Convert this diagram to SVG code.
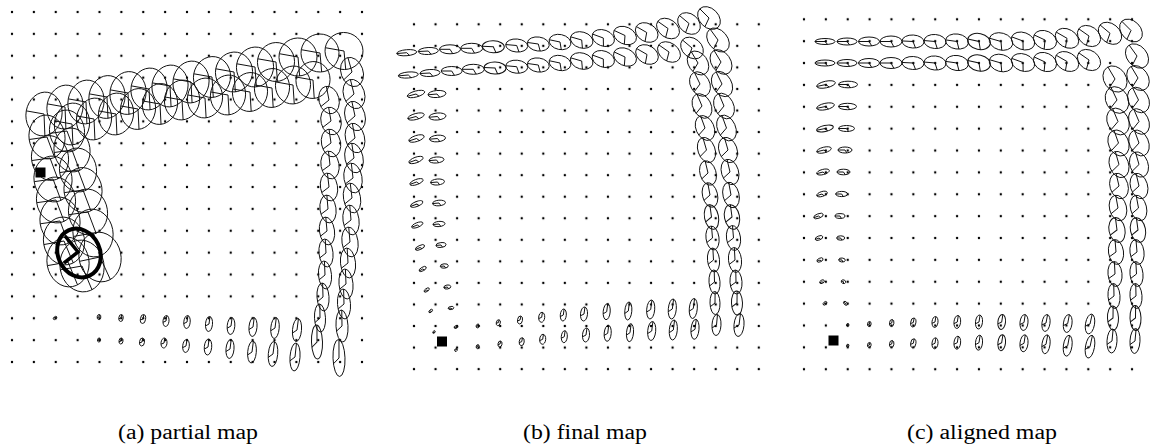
<svg xmlns="http://www.w3.org/2000/svg" width="1150" height="447" viewBox="0 0 1150 447">
<defs>
  <!-- landmark grids -->
  <pattern id="dotsA" patternUnits="userSpaceOnUse" x="1.0625" y="1.0625" width="21.875" height="21.875">
    <circle cx="10.9375" cy="10.9375" r="1.2" fill="#000"/>
  </pattern>
  <pattern id="dotsB" patternUnits="userSpaceOnUse" x="403.225" y="13.525" width="21.55" height="21.55">
    <circle cx="10.775" cy="10.775" r="1.2" fill="#000"/>
  </pattern>
  <pattern id="dotsC" patternUnits="userSpaceOnUse" x="793.065" y="8.365" width="21.87" height="21.87">
    <circle cx="10.935" cy="10.935" r="1.2" fill="#000"/>
  </pattern>
  <!-- unit pose ellipse with heading wedge; placed by translate/rotate/scale -->
  <g id="h">
    <circle r="1" fill="none" stroke="#111" stroke-width="1" vector-effect="non-scaling-stroke"/>
    <path d="M-1,0 L0,0 L0.26,0.97" fill="none" stroke="#111" stroke-width="1" vector-effect="non-scaling-stroke"/>
  </g>
  <g id="v">
    <circle r="1" fill="none" stroke="#111" stroke-width="1" vector-effect="non-scaling-stroke"/>
    <path d="M0.1,-1 L0,0 L-0.95,0.3" fill="none" stroke="#111" stroke-width="1" vector-effect="non-scaling-stroke"/>
  </g>
</defs>
<rect width="1150" height="447" fill="#fff"/>

<!-- ============ (a) partial map ============ -->
<g id="map-a">
  <rect x="1.0625" y="1.0625" width="371.875" height="371.875" fill="url(#dotsA)"/>
  <g id="a-top-outer">
    <use href="#h" transform="translate(44 114) rotate(10) scale(18 22)"/>
    <use href="#h" transform="translate(65 107) rotate(10) scale(18 22)"/>
    <use href="#h" transform="translate(86 102) rotate(10) scale(18 22)"/>
    <use href="#h" transform="translate(107 97) rotate(10) scale(18 21.5)"/>
    <use href="#h" transform="translate(128 93) rotate(10) scale(18 21.5)"/>
    <use href="#h" transform="translate(149 89) rotate(10) scale(18 21)"/>
    <use href="#h" transform="translate(170 86) rotate(10) scale(18 21)"/>
    <use href="#h" transform="translate(191 82) rotate(10) scale(18 21)"/>
    <use href="#h" transform="translate(212 77) rotate(10) scale(18.5 20.5)"/>
    <use href="#h" transform="translate(234 72) rotate(10) scale(18.5 20)"/>
    <use href="#h" transform="translate(255 67) rotate(10) scale(18.5 20)"/>
    <use href="#h" transform="translate(276 62) rotate(10) scale(18.5 19.5)"/>
    <use href="#h" transform="translate(298 57) rotate(10) scale(19 19)"/>
    <use href="#h" transform="translate(320 53) rotate(10) scale(19 19)"/>
    <use href="#h" transform="translate(344 51) rotate(10) scale(19 18.5)"/>
  </g>
  <g id="a-top-inner">
    <use href="#h" transform="translate(72 124) rotate(10) scale(17.5 21)"/>
    <use href="#h" transform="translate(94 119) rotate(10) scale(17.5 21)"/>
    <use href="#h" transform="translate(116 114) rotate(10) scale(17.5 21)"/>
    <use href="#h" transform="translate(138 109) rotate(10) scale(17.5 20.5)"/>
    <use href="#h" transform="translate(160 104) rotate(10) scale(17.5 20.5)"/>
    <use href="#h" transform="translate(182 100) rotate(10) scale(17.5 20)"/>
    <use href="#h" transform="translate(205 98) rotate(10) scale(17.5 20)"/>
    <use href="#h" transform="translate(228 95) rotate(10) scale(17.5 20)"/>
    <use href="#h" transform="translate(250 92) rotate(10) scale(17.5 19.5)"/>
    <use href="#h" transform="translate(272 88) rotate(10) scale(17.5 19.5)"/>
    <use href="#h" transform="translate(293 85) rotate(10) scale(17.5 19)"/>
    <use href="#h" transform="translate(313 80) rotate(10) scale(17 18.5)"/>
  </g>
  <g id="a-right-outer">
    <use href="#v" transform="translate(352 72) rotate(-20) scale(11 15)"/>
    <use href="#v" transform="translate(354 94) rotate(-18) scale(10.5 15)"/>
    <use href="#v" transform="translate(355 116) rotate(-16) scale(10 15)"/>
    <use href="#v" transform="translate(355 138) rotate(-14) scale(9.5 15)"/>
    <use href="#v" transform="translate(354 158) rotate(-12) scale(9 15)"/>
    <use href="#v" transform="translate(353 178) rotate(-10) scale(9 15)"/>
    <use href="#v" transform="translate(352 198) rotate(-10) scale(8.5 15)"/>
    <use href="#v" transform="translate(351 220) rotate(-8) scale(8 15)"/>
    <use href="#v" transform="translate(350 242) rotate(-8) scale(8 15)"/>
    <use href="#v" transform="translate(348 263) rotate(-6) scale(7.5 15)"/>
    <use href="#v" transform="translate(346 284) rotate(-5) scale(7 15)"/>
    <use href="#v" transform="translate(344 304) rotate(-4) scale(6.5 15)"/>
    <use href="#v" transform="translate(342 326) rotate(-3) scale(6 16)"/>
    <use href="#v" transform="translate(339 358) rotate(-2) scale(6 18.5)"/>
  </g>
  <g id="a-right-inner">
    <use href="#v" transform="translate(329 100) rotate(-15) scale(10 14)"/>
    <use href="#v" transform="translate(331 121) rotate(-14) scale(10 14)"/>
    <use href="#v" transform="translate(331 143) rotate(-12) scale(9.5 14)"/>
    <use href="#v" transform="translate(330 165) rotate(-10) scale(9 14)"/>
    <use href="#v" transform="translate(329 187) rotate(-10) scale(8.5 14)"/>
    <use href="#v" transform="translate(328 209) rotate(-8) scale(8 14)"/>
    <use href="#v" transform="translate(327 231) rotate(-8) scale(7.5 14)"/>
    <use href="#v" transform="translate(326 253) rotate(-6) scale(7 14)"/>
    <use href="#v" transform="translate(325 275) rotate(-5) scale(6.5 14)"/>
    <use href="#v" transform="translate(323 297) rotate(-4) scale(6 14)"/>
    <use href="#v" transform="translate(320 318) rotate(-3) scale(5.5 14)"/>
    <use href="#v" transform="translate(317 342) rotate(-2) scale(5.5 17)"/>
  </g>
  <g id="a-left-outer">
    <use href="#h" transform="translate(47 137) rotate(-8) scale(18 22)"/>
    <use href="#h" transform="translate(50 158) rotate(-8) scale(18.5 22.5)"/>
    <use href="#h" transform="translate(53 179) rotate(-8) scale(19 23)"/>
    <use href="#h" transform="translate(56 200) rotate(-8) scale(19.5 23)"/>
    <use href="#h" transform="translate(60 221) rotate(-8) scale(20 24)"/>
    <use href="#h" transform="translate(64 241) rotate(-10) scale(20.5 24)"/>
    <use href="#h" transform="translate(68 262) rotate(-10) scale(21 25)"/>
  </g>
  <g id="a-left-inner">
    <use href="#h" transform="translate(67 131) rotate(-8) scale(17.5 21)"/>
    <use href="#h" transform="translate(72 150) rotate(-8) scale(18 22)"/>
    <use href="#h" transform="translate(78 170) rotate(-8) scale(18.5 22)"/>
    <use href="#h" transform="translate(83 190) rotate(-8) scale(19 22.5)"/>
    <use href="#h" transform="translate(88 212) rotate(-8) scale(19.5 23)"/>
    <use href="#h" transform="translate(93 233) rotate(-10) scale(20 24)"/>
    <use href="#h" transform="translate(100 257) rotate(-12) scale(21 25)"/>
    <use href="#h" transform="translate(82 266) rotate(-10) scale(22 26)"/>
  </g>
  <g id="a-bottom-upper">
    <use href="#v" transform="translate(55 318) rotate(50) scale(1.2 2)"/>
    <use href="#v" transform="translate(99 317) rotate(10) scale(1.8 2.5)"/>
    <use href="#v" transform="translate(121 318) rotate(8) scale(2.2 3.5)"/>
    <use href="#v" transform="translate(143 319) rotate(8) scale(2.6 4.5)"/>
    <use href="#v" transform="translate(166 321) rotate(6) scale(3 5.5)"/>
    <use href="#v" transform="translate(187 322) rotate(6) scale(3.2 6.5)"/>
    <use href="#v" transform="translate(209 324) rotate(5) scale(3.5 7.5)"/>
    <use href="#v" transform="translate(231 326) rotate(5) scale(3.8 8.5)"/>
    <use href="#v" transform="translate(253 327) rotate(5) scale(4 9.5)"/>
    <use href="#v" transform="translate(275 328) rotate(5) scale(4.2 10.5)"/>
    <use href="#v" transform="translate(297 330) rotate(5) scale(4.5 11.5)"/>
  </g>
  <g id="a-bottom-lower">
    <use href="#v" transform="translate(99 340) rotate(10) scale(1.5 2)"/>
    <use href="#v" transform="translate(121 341) rotate(8) scale(2 3)"/>
    <use href="#v" transform="translate(142 342) rotate(8) scale(2.5 4)"/>
    <use href="#v" transform="translate(164 343) rotate(6) scale(3 5)"/>
    <use href="#v" transform="translate(186 346) rotate(6) scale(3.3 6.5)"/>
    <use href="#v" transform="translate(208 347) rotate(5) scale(3.7 8)"/>
    <use href="#v" transform="translate(230 349) rotate(5) scale(4 9.5)"/>
    <use href="#v" transform="translate(252 352) rotate(5) scale(4.3 11)"/>
    <use href="#v" transform="translate(273 354) rotate(5) scale(4.7 12.5)"/>
    <use href="#v" transform="translate(295 357) rotate(4) scale(5 14)"/>
  </g>
  <g id="a-current-pose">
    <ellipse cx="0" cy="0" rx="21" ry="25" transform="translate(79 253) rotate(-25)" fill="none" stroke="#000" stroke-width="4"/>
    <path d="M65,236 L78,252 L64,263" fill="none" stroke="#000" stroke-width="3.5"/>
  </g>
  <rect x="35.5" y="167.5" width="10" height="10" fill="#000"/>
</g>

<!-- ============ (b) final map ============ -->
<g id="map-b">
  <rect x="403.225" y="13.525" width="366.35" height="366.35" fill="url(#dotsB)"/>
  <g id="b-top-outer">
    <use href="#h" transform="translate(406.7 52.7) rotate(-5) scale(10 3)"/>
    <use href="#h" transform="translate(428.3 51) rotate(-3) scale(10 3.5)"/>
    <use href="#h" transform="translate(450 49.3) rotate(0) scale(10.5 4.5)"/>
    <use href="#h" transform="translate(471.7 48.3) rotate(0) scale(11 5)"/>
    <use href="#h" transform="translate(493.3 46.7) rotate(2) scale(11 6)"/>
    <use href="#h" transform="translate(516.7 45.5) rotate(5) scale(11 6.5)"/>
    <use href="#h" transform="translate(538.3 44) rotate(8) scale(11 7)"/>
    <use href="#h" transform="translate(560 42) rotate(12) scale(11 7.5)"/>
    <use href="#h" transform="translate(581.7 40) rotate(16) scale(11.5 8)"/>
    <use href="#h" transform="translate(603.3 38) rotate(20) scale(11.5 8)"/>
    <use href="#h" transform="translate(625 35.5) rotate(25) scale(12 8.5)"/>
    <use href="#h" transform="translate(646.7 32.5) rotate(30) scale(12 9)"/>
    <use href="#h" transform="translate(668 28.5) rotate(35) scale(12.5 9)"/>
    <use href="#h" transform="translate(689 23.5) rotate(40) scale(12.5 9.5)"/>
    <use href="#h" transform="translate(709 18) rotate(45) scale(13 9.5)"/>
  </g>
  <g id="b-top-inner">
    <use href="#h" transform="translate(408.3 75) rotate(-5) scale(10 3)"/>
    <use href="#h" transform="translate(430 73) rotate(-3) scale(10 3.5)"/>
    <use href="#h" transform="translate(451.7 71) rotate(0) scale(10.5 4.5)"/>
    <use href="#h" transform="translate(473.3 69.3) rotate(0) scale(11 5)"/>
    <use href="#h" transform="translate(495 68) rotate(2) scale(11 6)"/>
    <use href="#h" transform="translate(516.7 66.7) rotate(5) scale(11 6.5)"/>
    <use href="#h" transform="translate(538.3 65) rotate(8) scale(11 7)"/>
    <use href="#h" transform="translate(560 63) rotate(12) scale(11 7.5)"/>
    <use href="#h" transform="translate(581.7 61) rotate(16) scale(11.5 8)"/>
    <use href="#h" transform="translate(603.3 59) rotate(20) scale(11.5 8)"/>
    <use href="#h" transform="translate(625 57) rotate(25) scale(12 8.5)"/>
    <use href="#h" transform="translate(647 54.5) rotate(30) scale(12 9)"/>
    <use href="#h" transform="translate(669 52) rotate(35) scale(12.5 9)"/>
    <use href="#h" transform="translate(692 48) rotate(40) scale(12.5 9.5)"/>
  </g>
  <g id="b-right-outer">
    <use href="#v" transform="translate(718 40) rotate(-40) scale(9.5 13.5)"/>
    <use href="#v" transform="translate(721 62) rotate(-35) scale(9.5 13.5)"/>
    <use href="#v" transform="translate(722 84) rotate(-30) scale(9.5 13.5)"/>
    <use href="#v" transform="translate(724 106) rotate(-27) scale(9.5 13.5)"/>
    <use href="#v" transform="translate(726.5 128) rotate(-24) scale(9 13.5)"/>
    <use href="#v" transform="translate(728 150) rotate(-20) scale(9 13)"/>
    <use href="#v" transform="translate(730 172) rotate(-17) scale(8.5 13)"/>
    <use href="#v" transform="translate(731 195) rotate(-14) scale(8 13)"/>
    <use href="#v" transform="translate(732 217) rotate(-11) scale(7.5 12.5)"/>
    <use href="#v" transform="translate(733.5 238) rotate(-8) scale(7 12.5)"/>
    <use href="#v" transform="translate(735 260) rotate(-6) scale(6.5 12.5)"/>
    <use href="#v" transform="translate(736 282) rotate(-4) scale(6 12)"/>
    <use href="#v" transform="translate(737 303) rotate(-2) scale(5.5 12)"/>
    <use href="#v" transform="translate(739 325) rotate(5) scale(5 11.5)"/>
  </g>
  <g id="b-right-inner">
    <use href="#v" transform="translate(698 63) rotate(-35) scale(9.5 13)"/>
    <use href="#v" transform="translate(700 84) rotate(-30) scale(9.5 13)"/>
    <use href="#v" transform="translate(702 106) rotate(-27) scale(9 13)"/>
    <use href="#v" transform="translate(705 128) rotate(-24) scale(9 13)"/>
    <use href="#v" transform="translate(706.5 150) rotate(-20) scale(8.5 13)"/>
    <use href="#v" transform="translate(708 173) rotate(-17) scale(8 12.5)"/>
    <use href="#v" transform="translate(710 195) rotate(-14) scale(7.5 12.5)"/>
    <use href="#v" transform="translate(711.5 217) rotate(-11) scale(7 12.5)"/>
    <use href="#v" transform="translate(712.5 238) rotate(-8) scale(6.5 12)"/>
    <use href="#v" transform="translate(713.5 260) rotate(-6) scale(6 12)"/>
    <use href="#v" transform="translate(714.5 282) rotate(-4) scale(5.5 12)"/>
    <use href="#v" transform="translate(715 303) rotate(-2) scale(5 11.5)"/>
    <use href="#v" transform="translate(716.5 325) rotate(3) scale(4.5 10.5)"/>
  </g>
  <g id="b-bottom-upper">
    <use href="#v" transform="translate(693.3 308.5) rotate(5) scale(4 10)"/>
    <use href="#v" transform="translate(672.3 309) rotate(5) scale(4 10)"/>
    <use href="#v" transform="translate(650.7 309.5) rotate(5) scale(4 9.5)"/>
    <use href="#v" transform="translate(628.3 311) rotate(5) scale(3.5 9)"/>
    <use href="#v" transform="translate(606.7 311.7) rotate(5) scale(3.5 8)"/>
    <use href="#v" transform="translate(584 314) rotate(5) scale(3.5 7)"/>
    <use href="#v" transform="translate(563.3 315) rotate(5) scale(3 6)"/>
    <use href="#v" transform="translate(541.7 317.3) rotate(5) scale(3 5)"/>
    <use href="#v" transform="translate(520 320) rotate(10) scale(2.5 4)"/>
    <use href="#v" transform="translate(498.3 322.7) rotate(15) scale(2 3)"/>
    <use href="#v" transform="translate(477.7 326) rotate(20) scale(1.5 2)"/>
  </g>
  <g id="b-bottom-lower">
    <use href="#v" transform="translate(695 329.3) rotate(5) scale(4 10)"/>
    <use href="#v" transform="translate(673.3 330) rotate(5) scale(4 10)"/>
    <use href="#v" transform="translate(651.7 331) rotate(5) scale(4 9.5)"/>
    <use href="#v" transform="translate(630 332.7) rotate(5) scale(3.5 9)"/>
    <use href="#v" transform="translate(607.7 333.3) rotate(5) scale(3.5 8)"/>
    <use href="#v" transform="translate(586 335) rotate(5) scale(3.5 7)"/>
    <use href="#v" transform="translate(564.3 336.7) rotate(5) scale(3 6)"/>
    <use href="#v" transform="translate(542.7 339.3) rotate(5) scale(3 5)"/>
    <use href="#v" transform="translate(521.7 341.7) rotate(8) scale(2.5 4)"/>
    <use href="#v" transform="translate(500 344) rotate(10) scale(2 3)"/>
    <use href="#v" transform="translate(477.7 346.7) rotate(10) scale(1.5 2)"/>
    <use href="#v" transform="translate(456 350) rotate(30) scale(1.2 1.6)"/>
  </g>
  <g id="b-left-outer">
    <use href="#h" transform="translate(416 94) rotate(-15) scale(9 3)"/>
    <use href="#h" transform="translate(416 116.5) rotate(-15) scale(8.5 3)"/>
    <use href="#h" transform="translate(416.5 138.5) rotate(-18) scale(8 3)"/>
    <use href="#h" transform="translate(416 160) rotate(-20) scale(7.5 2.8)"/>
    <use href="#h" transform="translate(416.5 182) rotate(-20) scale(7 2.6)"/>
    <use href="#h" transform="translate(416.7 204) rotate(-22) scale(6.5 2.5)"/>
    <use href="#h" transform="translate(417.3 225) rotate(-22) scale(6 2.3)"/>
    <use href="#h" transform="translate(420 247.5) rotate(-25) scale(5 2)"/>
    <use href="#h" transform="translate(422.7 269) rotate(-30) scale(4 1.8)"/>
    <use href="#h" transform="translate(426.7 290) rotate(-35) scale(3 1.5)"/>
    <use href="#h" transform="translate(430.7 311) rotate(-40) scale(2.2 1.2)"/>
    <use href="#h" transform="translate(434 332) rotate(-50) scale(1.5 1)"/>
  </g>
  <g id="b-left-inner">
    <use href="#h" transform="translate(437 94) rotate(-5) scale(9 3.5)"/>
    <use href="#h" transform="translate(437.5 116.5) rotate(-5) scale(8.5 3.5)"/>
    <use href="#h" transform="translate(437.5 138.5) rotate(-5) scale(8 3.3)"/>
    <use href="#h" transform="translate(436.5 160) rotate(-5) scale(7.5 3)"/>
    <use href="#h" transform="translate(437.5 182) rotate(-5) scale(7 3)"/>
    <use href="#h" transform="translate(439 203) rotate(-5) scale(6.5 2.8)"/>
    <use href="#h" transform="translate(439 224) rotate(-5) scale(6 2.6)"/>
    <use href="#h" transform="translate(441 245) rotate(-5) scale(5 2.4)"/>
    <use href="#h" transform="translate(444.3 266) rotate(-5) scale(4 2.2)"/>
    <use href="#h" transform="translate(447.3 287) rotate(-10) scale(3.5 2)"/>
    <use href="#h" transform="translate(451 308) rotate(-10) scale(2.8 1.6)"/>
    <use href="#h" transform="translate(456 327) rotate(-20) scale(2 1.3)"/>
  </g>
  <rect x="437" y="336.5" width="10" height="10" fill="#000"/>
</g>

<!-- ============ (c) aligned map ============ -->
<g id="map-c">
  <rect x="793.065" y="8.365" width="349.92" height="371.79" fill="url(#dotsC)"/>
  <g id="c-top-outer">
    <use href="#h" transform="translate(825 41.5) rotate(0) scale(10 3)"/>
    <use href="#h" transform="translate(847 41.5) rotate(0) scale(10 3.5)"/>
    <use href="#h" transform="translate(869 41.5) rotate(0) scale(10.5 4.5)"/>
    <use href="#h" transform="translate(891 41.5) rotate(0) scale(11 5.5)"/>
    <use href="#h" transform="translate(913 41.5) rotate(3) scale(11 6.5)"/>
    <use href="#h" transform="translate(935 41.5) rotate(5) scale(11 7)"/>
    <use href="#h" transform="translate(957 41.5) rotate(8) scale(11.5 7.5)"/>
    <use href="#h" transform="translate(979 41.5) rotate(12) scale(11.5 8)"/>
    <use href="#h" transform="translate(1001 41.5) rotate(16) scale(12 8.5)"/>
    <use href="#h" transform="translate(1023 41) rotate(20) scale(12 8.5)"/>
    <use href="#h" transform="translate(1045 40) rotate(25) scale(12 9)"/>
    <use href="#h" transform="translate(1067 38.3) rotate(30) scale(12.5 9)"/>
    <use href="#h" transform="translate(1089 36) rotate(35) scale(12.5 9.5)"/>
    <use href="#h" transform="translate(1110 33.3) rotate(40) scale(13 9.5)"/>
    <use href="#h" transform="translate(1131 30.5) rotate(45) scale(13 9.5)"/>
  </g>
  <g id="c-top-inner">
    <use href="#h" transform="translate(825 63) rotate(0) scale(10 3)"/>
    <use href="#h" transform="translate(847 63) rotate(0) scale(10 3.5)"/>
    <use href="#h" transform="translate(869 63) rotate(0) scale(10.5 4.5)"/>
    <use href="#h" transform="translate(891 63) rotate(0) scale(11 5.5)"/>
    <use href="#h" transform="translate(913 63) rotate(3) scale(11 6.5)"/>
    <use href="#h" transform="translate(935 63) rotate(5) scale(11 7)"/>
    <use href="#h" transform="translate(957 63) rotate(8) scale(11.5 7.5)"/>
    <use href="#h" transform="translate(979 63) rotate(12) scale(11.5 8)"/>
    <use href="#h" transform="translate(1001 63) rotate(16) scale(12 8.5)"/>
    <use href="#h" transform="translate(1023 62.5) rotate(20) scale(12 8.5)"/>
    <use href="#h" transform="translate(1045 62) rotate(25) scale(12 9)"/>
    <use href="#h" transform="translate(1067 61.5) rotate(30) scale(12.5 9)"/>
    <use href="#h" transform="translate(1089 60) rotate(35) scale(12.5 9.5)"/>
  </g>
  <g id="c-right-outer">
    <use href="#v" transform="translate(1137 56) rotate(-40) scale(10 13.5)"/>
    <use href="#v" transform="translate(1138 78) rotate(-35) scale(10 13.5)"/>
    <use href="#v" transform="translate(1138.5 100) rotate(-30) scale(10 13.5)"/>
    <use href="#v" transform="translate(1139 121.5) rotate(-27) scale(9.5 13.5)"/>
    <use href="#v" transform="translate(1139 143) rotate(-24) scale(9.5 13.5)"/>
    <use href="#v" transform="translate(1139 164.5) rotate(-20) scale(9 13)"/>
    <use href="#v" transform="translate(1139 186) rotate(-17) scale(8.5 13)"/>
    <use href="#v" transform="translate(1138.5 208) rotate(-14) scale(8 13)"/>
    <use href="#v" transform="translate(1138 230) rotate(-11) scale(7.5 12.5)"/>
    <use href="#v" transform="translate(1137 252) rotate(-8) scale(7 12.5)"/>
    <use href="#v" transform="translate(1136.5 274) rotate(-6) scale(6.5 12.5)"/>
    <use href="#v" transform="translate(1136 296) rotate(-4) scale(6 12.5)"/>
    <use href="#v" transform="translate(1135.5 318) rotate(-2) scale(5.5 12.5)"/>
    <use href="#v" transform="translate(1135 341) rotate(3) scale(5 12.5)"/>
  </g>
  <g id="c-right-inner">
    <use href="#v" transform="translate(1115 79) rotate(-35) scale(11 14)"/>
    <use href="#v" transform="translate(1117 100) rotate(-30) scale(11 14)"/>
    <use href="#v" transform="translate(1118 121.5) rotate(-27) scale(10.5 14)"/>
    <use href="#v" transform="translate(1118.5 143) rotate(-24) scale(10 13.5)"/>
    <use href="#v" transform="translate(1119 164.5) rotate(-20) scale(9.5 13.5)"/>
    <use href="#v" transform="translate(1119 186) rotate(-17) scale(9 13)"/>
    <use href="#v" transform="translate(1118 208) rotate(-14) scale(8.5 13)"/>
    <use href="#v" transform="translate(1117 230) rotate(-11) scale(8 12.5)"/>
    <use href="#v" transform="translate(1116 252) rotate(-8) scale(7.5 12.5)"/>
    <use href="#v" transform="translate(1115 274) rotate(-6) scale(7 12.5)"/>
    <use href="#v" transform="translate(1114 296) rotate(-4) scale(6 12.5)"/>
    <use href="#v" transform="translate(1113 318) rotate(-2) scale(5.5 12)"/>
    <use href="#v" transform="translate(1112 341) rotate(3) scale(5 12)"/>
  </g>
  <g id="c-bottom-upper">
    <use href="#v" transform="translate(847.7 325) rotate(15) scale(1.2 1.5)"/>
    <use href="#v" transform="translate(869.3 324) rotate(10) scale(1.8 2.5)"/>
    <use href="#v" transform="translate(891.7 323) rotate(8) scale(2.2 3.5)"/>
    <use href="#v" transform="translate(913.3 322.5) rotate(8) scale(2.6 4.5)"/>
    <use href="#v" transform="translate(935 322) rotate(6) scale(3 5.5)"/>
    <use href="#v" transform="translate(957.3 322) rotate(6) scale(3.3 6.5)"/>
    <use href="#v" transform="translate(979 322) rotate(6) scale(3.5 7)"/>
    <use href="#v" transform="translate(1001.7 322) rotate(6) scale(3.8 7.5)"/>
    <use href="#v" transform="translate(1024 322.5) rotate(6) scale(4 8)"/>
    <use href="#v" transform="translate(1046 323) rotate(8) scale(4 8.5)"/>
    <use href="#v" transform="translate(1067.7 323.5) rotate(8) scale(4.3 9)"/>
    <use href="#v" transform="translate(1090 324) rotate(10) scale(4.5 10)"/>
  </g>
  <g id="c-bottom-lower">
    <use href="#v" transform="translate(847.7 345.7) rotate(15) scale(1.2 1.5)"/>
    <use href="#v" transform="translate(869.3 345) rotate(10) scale(1.8 2.5)"/>
    <use href="#v" transform="translate(891.7 344) rotate(8) scale(2.2 3.5)"/>
    <use href="#v" transform="translate(913.3 343.3) rotate(8) scale(2.6 4.5)"/>
    <use href="#v" transform="translate(935 343.3) rotate(6) scale(3 5.5)"/>
    <use href="#v" transform="translate(957.3 342.7) rotate(6) scale(3.3 6.5)"/>
    <use href="#v" transform="translate(979 342.7) rotate(6) scale(3.5 7.5)"/>
    <use href="#v" transform="translate(1001.7 342.7) rotate(6) scale(3.8 8)"/>
    <use href="#v" transform="translate(1024 343.3) rotate(6) scale(4 8.5)"/>
    <use href="#v" transform="translate(1046 344.3) rotate(8) scale(4 9.5)"/>
    <use href="#v" transform="translate(1067.7 345.7) rotate(8) scale(4.3 10.5)"/>
    <use href="#v" transform="translate(1090 346.7) rotate(10) scale(4.5 11.5)"/>
  </g>
  <g id="c-left-outer">
    <use href="#h" transform="translate(826 84.5) rotate(-12) scale(9.5 3.3)"/>
    <use href="#h" transform="translate(825.5 106.5) rotate(-12) scale(9 3.2)"/>
    <use href="#h" transform="translate(825 128.5) rotate(-12) scale(8.5 3)"/>
    <use href="#h" transform="translate(824 150) rotate(-14) scale(7.5 2.8)"/>
    <use href="#h" transform="translate(823 172) rotate(-15) scale(6.5 2.6)"/>
    <use href="#h" transform="translate(822 194) rotate(-18) scale(5.5 2.4)"/>
    <use href="#h" transform="translate(818.5 216) rotate(-20) scale(5 2.2)"/>
    <use href="#h" transform="translate(819 238) rotate(-22) scale(4 2)"/>
    <use href="#h" transform="translate(820 260) rotate(-25) scale(3.3 1.8)"/>
    <use href="#h" transform="translate(822 281.7) rotate(-30) scale(2.5 1.6)"/>
    <use href="#h" transform="translate(825 303.3) rotate(-40) scale(2.2 1.4)"/>
  </g>
  <g id="c-left-inner">
    <use href="#h" transform="translate(848 84.5) rotate(0) scale(9.5 3.3)"/>
    <use href="#h" transform="translate(847.5 106.5) rotate(0) scale(9 3.2)"/>
    <use href="#h" transform="translate(846.5 128.5) rotate(0) scale(8 3)"/>
    <use href="#h" transform="translate(845 150) rotate(0) scale(7 3)"/>
    <use href="#h" transform="translate(843.5 172) rotate(0) scale(6.5 2.8)"/>
    <use href="#h" transform="translate(841.7 194) rotate(0) scale(6 2.6)"/>
    <use href="#h" transform="translate(840 216) rotate(0) scale(5 2.4)"/>
    <use href="#h" transform="translate(840.7 238) rotate(0) scale(4 2.2)"/>
    <use href="#h" transform="translate(842 260) rotate(5) scale(3.3 2)"/>
    <use href="#h" transform="translate(843.5 281.7) rotate(20) scale(2.3 1.8)"/>
    <use href="#h" transform="translate(845.5 303.3) rotate(45) scale(2.3 1.5)"/>
  </g>
  <rect x="828.5" y="335.5" width="10" height="10" fill="#000"/>
</g>

<!-- captions -->
<g id="captions" font-family="'Liberation Serif', 'Times New Roman', serif" font-size="20" fill="#000" text-anchor="middle">
  <text x="188" y="439" textLength="140" lengthAdjust="spacingAndGlyphs">(a) partial map</text>
  <text x="585" y="439" textLength="124" lengthAdjust="spacingAndGlyphs">(b) final map</text>
  <text x="982" y="439" textLength="150" lengthAdjust="spacingAndGlyphs">(c) aligned map</text>
</g>
</svg>
